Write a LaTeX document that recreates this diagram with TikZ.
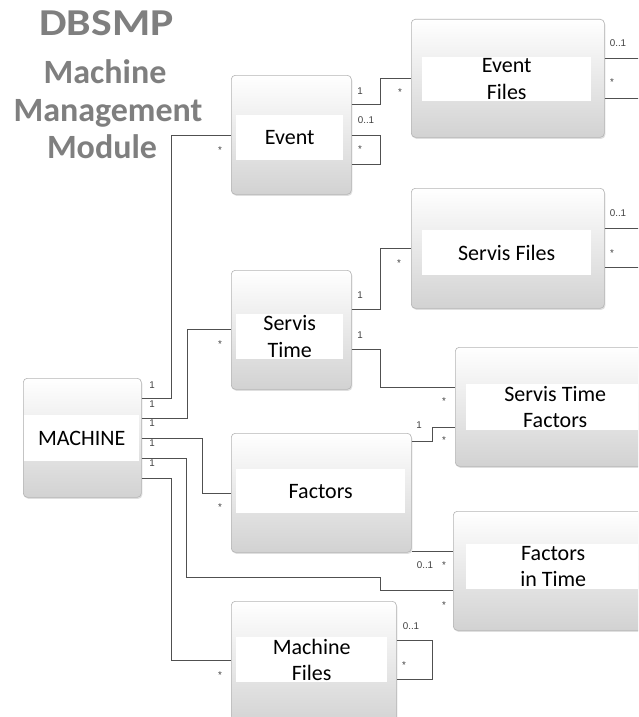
\documentclass[tikz,border=0pt]{standalone}
\usepackage{fontspec}
\setmainfont{Carlito}
\newfontfamily\lblfont{Liberation Sans}
\usetikzlibrary{shadows}
\definecolor{boxborder}{HTML}{B4B4B4}
\definecolor{boxbottom}{HTML}{D2D2D2}
\definecolor{linecol}{HTML}{505050}
\definecolor{titlecol}{HTML}{7F7F7F}
\definecolor{lblcol}{HTML}{404040}
\tikzset{
  umlbox/.style={draw=boxborder, line width=0.6pt, rounded corners=4pt, top color=white, bottom color=boxbottom,
    inner sep=0pt, anchor=north west, drop shadow={shadow xshift=1pt, shadow yshift=-1.5pt, opacity=0.25}},
  band/.style={fill=white, inner sep=0pt, anchor=north west, align=center,
    font=\fontsize{22}{26.5}\selectfont},
  conn/.style={draw=linecol, line width=0.7pt},
  lbl/.style={font=\lblfont\fontsize{9.8}{11}\selectfont, text=lblcol, inner sep=0pt, anchor=base, yshift=-3.5pt},
  star/.style={font=\lblfont\fontsize{9.8}{11}\selectfont, text=lblcol, inner sep=0pt, anchor=base, yshift=-5.5pt},
  ttl/.style={font=\bfseries\fontsize{34}{40}\selectfont, text=titlecol, inner sep=0pt, anchor=base},
}
\begin{document}
\begin{tikzpicture}[x=1pt,y=-1pt]
\useasboundingbox (0,0) rectangle (638,717);
\clip (0,0) rectangle (638,717);
\fill[white] (0,0) rectangle (638,717);

% title
\node[ttl, font=\bfseries\fontsize{38}{40}\selectfont] (t1) at (106.5,36) {\scalebox{1.15}[1]{DBSMP}};
\node[ttl] (t2) at (105,83) {Machine};
\node[ttl] (t3) at (108,121) {Management};
\node[ttl] (t4) at (102,158) {Module};

% boxes
\node[umlbox, minimum width=118pt, minimum height=119pt] (machine) at (23,378) {};
\node[band, minimum width=115pt, minimum height=46pt] (machineband) at (24,415) {MACHINE};

\node[umlbox, minimum width=120pt, minimum height=119pt] (event) at (231,75) {};
\node[band, minimum width=107pt, minimum height=45pt] (eventband) at (236,115) {Event};

\node[umlbox, minimum width=193pt, minimum height=118pt] (eventfiles) at (411,19) {};
\node[band, minimum width=169pt, minimum height=44pt] (eventfilesband) at (422,57) {Event\\Files};

\node[umlbox, minimum width=193pt, minimum height=120pt] (servisfiles) at (411,188) {};
\node[band, minimum width=169pt, minimum height=45pt] (servisfilesband) at (422,230) {Servis Files};

\node[umlbox, minimum width=120pt, minimum height=119pt] (servistime) at (231,270) {};
\node[band, minimum width=107pt, minimum height=45pt] (servistimeband) at (236,314) {Servis\\Time};

\node[umlbox, minimum width=202pt, minimum height=119pt] (stf) at (455,347) {};
\node[band, minimum width=178pt, minimum height=46pt] (stfband) at (466,384) {Servis Time\\Factors};

\node[umlbox, minimum width=180pt, minimum height=119pt] (factors) at (231,433) {};
\node[band, minimum width=169pt, minimum height=44pt] (factorsband) at (236,469) {Factors};

\node[umlbox, minimum width=200pt, minimum height=119pt] (fit) at (453,511) {};
\node[band, minimum width=174pt, minimum height=45pt] (fitband) at (466,544) {Factors\\in Time};

\node[umlbox, minimum width=165pt, minimum height=125pt] (machinefiles) at (231,601) {};
\node[band, minimum width=151pt, minimum height=45pt] (machinefilesband) at (236,637) {Machine\\Files};

% connectors from MACHINE
\draw[conn] ([yshift=-20pt]machine.north east) -- ++(30,0) |- ([yshift=-60pt]event.north west);
\draw[conn] ([yshift=-40pt]machine.north east) -- ++(46,0) |- ([yshift=-59pt]servistime.north west);
\draw[conn] ([yshift=-60pt]machine.north east) -- ++(61,0) |- ([yshift=-60pt]factors.north west);
\draw[conn] ([yshift=-80pt]machine.north east) -- ++(45,0) -- ++(0,119) -- ++(194,0) |- ([yshift=-79pt]fit.north west);
\draw[conn] ([yshift=-100pt]machine.north east) -- ++(30,0) |- ([yshift=-59pt]machinefiles.north west);

% Event
\draw[conn] ([yshift=-29pt]event.north east) -- ++(29,0) |- ([yshift=-59pt]eventfiles.north west);
\draw[conn] ([yshift=-60pt]event.north east) -- ++(29,0) -- ++(0,29) -- ([yshift=-89pt]event.north east);
% Event Files stubs
\draw[conn] ([yshift=-39pt]eventfiles.north east) -- ++(40,0) coordinate (efa);
\draw[conn] ([yshift=-79pt]eventfiles.north east) -- ++(40,0) coordinate (efb);
% Servis Time
\draw[conn] ([yshift=-39pt]servistime.north east) -- ++(29,0) |- ([yshift=-60pt]servisfiles.north west);
\draw[conn] ([yshift=-79pt]servistime.north east) -- ++(29,0) |- ([yshift=-40pt]stf.north west);
% Servis Files stubs
\draw[conn] ([yshift=-40pt]servisfiles.north east) -- ++(40,0) coordinate (sfa);
\draw[conn] ([yshift=-79pt]servisfiles.north east) -- ++(40,0) coordinate (sfb);
% Factors
\draw[conn] ([yshift=-8pt]factors.north east) -- ++(21,0) |- ([yshift=-80pt]stf.north west);
\draw[conn] ([yshift=-118pt]factors.north east) -- ([yshift=-40pt]fit.north west);
% Machine Files self loop
\draw[conn] ([yshift=-39pt]machinefiles.north east) -- ++(36,0) -- ++(0,39) -- ([yshift=-78pt]machinefiles.north east);

% multiplicity labels
\node[lbl] (m1) at (152,385) {1};
\node[lbl] (m2) at (152,404) {1};
\node[lbl] (m3) at (152,423) {1};
\node[lbl] (m4) at (152,443) {1};
\node[lbl] (m5) at (152,463) {1};
\node[star] (s1) at (220,148) {*};
\node[star] (s2) at (220,342) {*};
\node[star] (s3) at (220,505) {*};
\node[star] (s4) at (220,673) {*};
\node[star] (s5) at (444,603) {*};

\node[lbl] (e1) at (360,91) {1};
\node[star] (e2) at (400,90) {*};
\node[lbl] (e3) at (366,120) {0..1};
\node[star] (e4) at (360,147) {*};
\node[lbl] (ef1) at (618,43) {0..1};
\node[star] (ef2) at (612,80) {*};

\node[lbl] (st1) at (360,295) {1};
\node[star] (st2) at (399,261) {*};
\node[lbl] (st3) at (360,335) {1};
\node[star] (st4) at (444,399) {*};
\node[lbl] (sf1) at (618,213) {0..1};
\node[star] (sf2) at (612,251) {*};

\node[lbl] (f1) at (419,425) {1};
\node[star] (f2) at (444,438) {*};
\node[lbl] (f3) at (425,565) {0..1};
\node[star] (f4) at (444,563) {*};

\node[lbl] (mf1) at (411,626) {0..1};
\node[star] (mf2) at (404,663) {*};
\end{tikzpicture}
\end{document}
